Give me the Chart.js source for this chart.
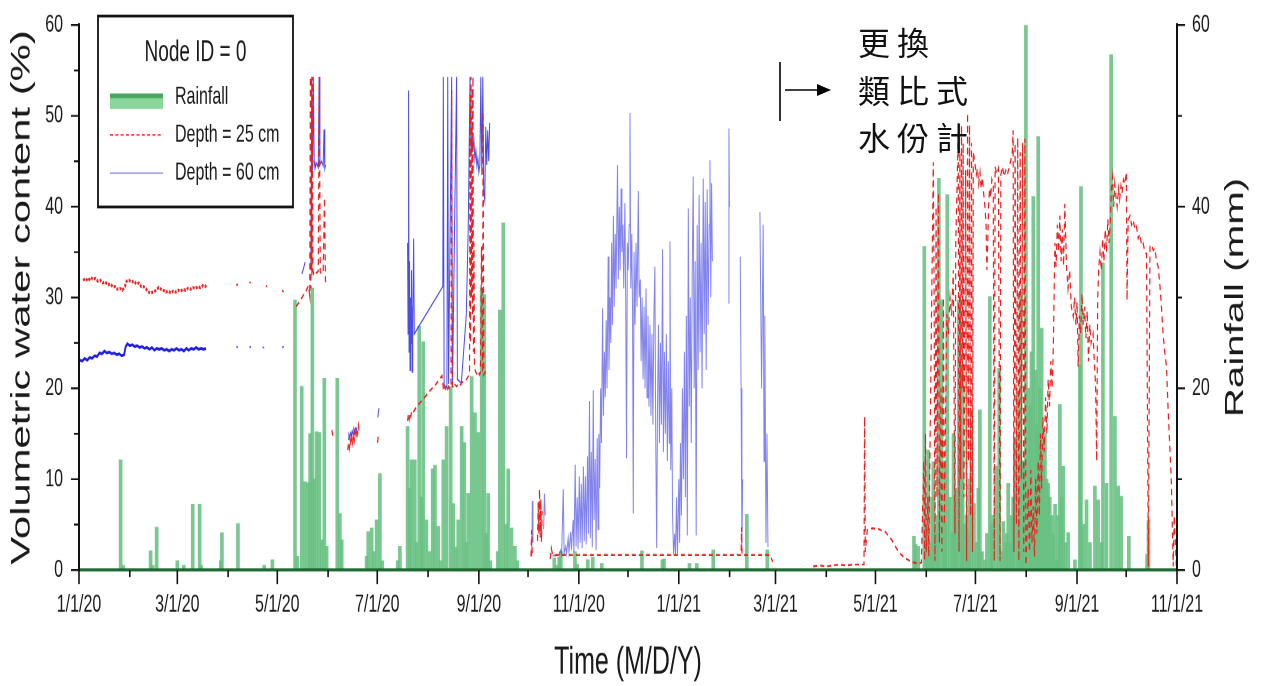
<!DOCTYPE html>
<html>
<head>
<meta charset="utf-8">
<title>Node ID = 0 — soil moisture and rainfall</title>
<script src="https://cdn.jsdelivr.net/npm/chart.js@4.4.0/dist/chart.umd.min.js"></script>
<style>
  html, body { margin: 0; padding: 0; background: #fff; overflow: hidden; }
  #stage { position: relative; width: 1263px; height: 686px; }
  /* the figure is drawn on a short canvas and stretched vertically */
  #plot { position: absolute; left: 0; top: 0; width: 1263px; height: 443px;
          transform: scaleY(1.54853); transform-origin: 0 0; }
  #arrow { position: absolute; left: 0; top: 0; }
  #note { position: absolute; left: 858px; top: 18px; font-family: "Noto Sans CJK TC", sans-serif;
          font-size: 32px; line-height: 47.5px; letter-spacing: 7px; color: #111; white-space: nowrap; }
</style>
</head>
<body>
<div id="stage">
  <div id="plot"><canvas id="c" width="1263" height="443"></canvas></div>
  <svg id="arrow" width="1263" height="686" viewBox="0 0 1263 686">
    <line x1="780" y1="62" x2="780" y2="121" stroke="#000" stroke-width="1.6"/>
    <line x1="785" y1="90" x2="820" y2="90" stroke="#000" stroke-width="1.6"/>
    <polygon points="817,84 831,90 817,96" fill="#000"/>
  </svg>
  <div id="note">更換<br>類比式<br>水份計</div>
</div>
<script>
// Day numbers count from 1 Jan 2020 (day 0).
const tickDays = [0, 60, 121, 182, 244, 305, 366, 425, 486, 547, 609, 670];
const tickLabels = ['1/1/20', '3/1/20', '5/1/20', '7/1/20', '9/1/20', '11/1/20',
                    '1/1/21', '3/1/21', '5/1/21', '7/1/21', '9/1/21', '11/1/21'];
const minorTickDays = [31, 91, 152, 213, 274, 335, 397, 456, 517, 578, 639];
const vwcTicks = [0, 10, 20, 30, 40, 50, 60];
const vwcMinorTicks = [5, 15, 25, 35, 45, 55];
const rainTicks = [0, 20, 40, 60];
const rainMinorTicks = [10, 30, 50];

// Daily rainfall (mm): [day, mm]
const rainfallDaily = [
  [25.4,12.1],[27,0.5],[43.7,2.1],[45,0.5],[47.4,4.7],[60,1.0],[64,0.5],[69.4,7.2],[73.6,7.2],[74.5,0.5],
  [86.5,1.0],[87.2,4.1],[97,5.1],[113,0.5],[118,1.1],
  [131.8,29.7],[133.2,1.5],[135.9,20.2],[137.9,9.7],[139.9,9.6],[141,15],[142.4,31],[143.5,10],[145,15.2],
  [146.6,15.1],[148.1,3.3],[149.7,21.1],[151.1,2.6],[157.6,21.1],[159.2,6.2],[160.3,3.3],
  [175.5,1.5],[176.5,4.2],[178.6,4.6],[180,2],[181.6,5.5],[183.6,10.6],[185,1],[194.5,1],[195.8,2.6],
  [200.5,15.8],[201.7,9],[202.9,12.1],[204.9,12.1],[206,3],[207.6,26.8],[209,8],[210,25.1],[212,5.5],[214,2],
  [215.8,11.1],[217.2,11.5],[219.2,4.8],[220.5,1],[222.3,12.1],[224.3,15.8],[226.8,20.2],[228.4,7.3],[230,2.5],
  [231.4,5.5],[233.5,15.8],[235.1,14],[236.3,3],[237.5,8.4],[239.6,21.3],[241.6,17.3],[243.6,15.1],[245.7,31.0],
  [247.3,30.3],[248.5,4],[249.7,8.4],[251,1],[255.5,2],[256.8,28.6],[258.9,38.2],[260.5,5],[261.9,11.1],
  [263.9,4.6],[266,2.6],[267.5,1],
  [290,1.3],[291.5,0.5],[293,1.4],[294,2],[302.6,2.0],[304,0.6],[310.5,1.1],[313.5,1.4],[319,0.7],[343.5,2.1],
  [356,1.1],[357,1.2],[372.5,0.7],[377,0.7],[387,2.2],[407.5,6.1],[420,2.2],
  [509.5,3.7],[510.5,2.8],[512.1,2.6],[515.8,35.6],[517.2,5],[518.2,13.2],[519.6,3],[520.5,8],[521.3,11.9],
  [522.9,4],[523.8,6],[524.7,43.1],[526.3,29.7],[527.8,6],[528.5,12],[529.8,41.3],[531.4,8],[532.8,4.1],
  [533.6,15],[534.5,8.2],[535.5,9],[536.9,29.7],[538.5,14],[539.2,22],[540,5],[541.6,6],[542.4,4],[543.2,10],
  [544.6,17.6],[546.1,7.3],[547.7,3],[548.8,9],[549.7,17.6],[551,2],[552.8,1.1],[554,4],[555.8,30.1],[556.8,5],
  [557.9,6],[559.9,11.4],[561.5,22.2],[563,2],[564,5.3],[565.4,3],[566.2,4],[567,9.5],[568,3],[569,6],[570,8],
  [571.1,14.6],[572.7,19.5],[573.6,9],[574.5,30.6],[575.6,12],[576.6,11.7],[577.8,60],[579.2,20],[580.2,18],
  [581.2,24],[582.3,41.1],[583.7,22],[584.5,16],[585.3,47.7],[586.4,20],[587.4,26.6],[588.4,12],[589.4,15],
  [590.4,10],[591.4,9.5],[592.4,8],[593.5,6],[594.5,4],[595.6,7.2],[596.5,1.1],[597.5,6],[598.5,18.2],[599.6,8],
  [600.6,11.4],[602,3],[603.6,4.1],[607.7,1.1],[610.7,22.6],[611.4,42.2],[612.8,5],[614.8,7.7],[616.9,3],
  [619.9,9.2],[621.9,7.7],[624,3],[624.8,33.8],[627,9.5],[629.8,56.7],[632.1,16.9],[634.1,9.2],[636,8.1],
  [640.6,3.7],[651.7,1.7],[652.6,5.5]
];

// Volumetric water content (%) at 25 cm: [day, %], null marks a logging gap
const vwcDepth25 = [
  [2.5,31.9],[4,32.1],[5.5,31.8],[7,32.2],[8.5,32.0],[10,32.1],[11.5,31.8],[13,31.9],[14.5,31.6],[16,31.7],
  [17.5,31.4],[19,31.5],[20.5,31.2],[22,31.2],[23.5,30.9],[25,31.0],[26.5,30.8],[28,31.2],[29,31.8],[30.5,31.9],
  [32,31.7],[33.5,31.8],[35,31.5],[36.5,31.6],[38,31.2],[39.5,31.2],[41,30.9],[42.5,30.6],[44,30.5],[45.5,30.6],
  [47,30.8],[48.5,31.1],[50,30.9],[51.5,30.8],[53,30.6],[54.5,30.7],[56,30.5],[57.5,30.7],[59,30.6],[60.5,30.8],
  [62,30.7],[63.5,30.9],[65,30.8],[66.5,31.0],[68,30.9],[69.5,31.1],[71,31.0],[72.5,31.2],[74,31.1],[75.5,31.3],
  [77,31.2],[78,31.4],[79,null],
  [96,31.4],[97,31.4],[98,null],[104,31.7],[104.8,31.6],[105.5,null],[114,31.2],[114.8,31.3],[115.5,null],
  [124,30.8],[124.8,30.6],[125.5,null],
  [132.5,29.0],[134,29.4],[135.5,29.8],[137,30.3],[138.5,30.7],[140,31.3],[140.8,30.2],[141.2,54.3],[141.5,31],
  [141.8,54.3],[142.1,32.5],[142.4,54.3],[142.7,33],[143.2,32.6],[144,32.9],[145,32.7],[146,32.9],[146.6,54.3],
  [147.2,32.8],[148,32.6],[149,32.9],[149.8,41],[150.4,31.8],[151,31.4],[151.5,null],
  [154.3,15.4],[154.8,14.8],[155.2,null],
  [164,13.2],[164.5,14.0],[165,13.4],[165.5,14.4],[166,13.7],[166.5,14.7],[167,14.0],[167.5,15.0],[168,14.3],
  [168.5,15.3],[169,14.6],[169.5,15.6],[170,15.0],[170.5,15.9],[171,15.2],[171.5,null],
  [182.2,14.0],[182.6,14.8],[183,null],
  [200.5,16.4],[201,17.2],[201.5,16.6],[202,17.3],[202.5,16.9],[203,17.5],[203.8,17.3],[206,18.0],[210,18.8],
  [214,19.7],[218,20.5],[221.5,21.4],[222.3,20.0],[222.8,19.7],[223.3,20.2],[224,19.8],[224.5,20.1],[225,19.9],
  [225.5,20.2],[226,20.0],[227,20.3],[227.4,52.8],[227.8,20.3],[228.5,20.0],[229.5,20.4],[230.5,20.2],
  [231.5,20.5],[232.5,20.3],[233.5,20.6],[234.5,20.8],[235.5,20.9],[236.5,21.0],[237.5,21.3],[238.3,21.6],
  [238.6,52.5],[238.9,25],[239.2,54.3],[239.5,30],[239.8,53],[240.1,28],[240.4,54.3],[240.7,24],[241,36],
  [241.3,22.5],[242,21.8],[242.8,21.6],[243.6,21.9],[244.4,21.5],[245,21.8],[245.6,35.6],[246.2,21.7],
  [246.6,50.5],[247,21.5],[247.8,21.8],[248.5,21.5],[249,21.6],[249.5,null],
  [275.8,1.5],[276.2,4.4],[276.6,1.8],[277,null],[279.8,3.2],[280.2,7.5],[280.6,4],[281,8.9],[281.4,3.6],
  [281.8,7.8],[282.2,3.1],[282.6,6.5],[283,null],
  [287.5,1.2],[288.2,2.4],[289,1.65],[320,1.65],[360,1.65],[404,1.65],[404.3,4.7],[404.6,1.65],[421.6,1.65],
  [423.4,0.9],[424,null],
  [448,0.4],[452,0.5],[456,0.4],[460,0.5],[464,0.6],[468,0.5],[472,0.6],[476,0.6],[479,0.6],[479.4,16.9],
  [479.8,2],[481,4.4],[484,4.6],[488,4.5],[492,4.2],[496,3.3],[500,2.0],[504,1.3],[508,0.9],[512,0.7],[514,0.8],
  [515.5,12],[516,1],[516.5,15],[517,2],[518,8],[518.5,1.5],[521.3,44.9],[521.8,30],[522.3,1],[523,40],
  [523.5,8],[524.5,41.5],[525,3],[526,20],[526.5,2],[527.5,30],[528,5],[529.5,28.2],[530.5,26],[531.5,30],
  [532.5,28],[533.5,33],[534.5,4],[535,36],[535.5,40],[536,44],[536.5,48],[537,2],[537.5,46],[538,10],
  [538.5,49],[539,20],[539.5,47],[540,8],[541,44],[541.6,1],[542.2,50.3],[542.8,12],[543.4,49],[544,6],
  [544.6,47],[545.2,2],[545.7,46],[546.7,44.8],[547.5,43.5],[548.3,44.2],[549,42.5],[549.8,43.8],[550.5,42],
  [551.3,43.2],[552,41.5],[552.8,40],[553.5,38],[554,33],[554.5,36],[555,40],[555.6,42],[556.3,41],[557,43],
  [557.9,42.3],[558.5,1],[559,44.4],[560,43.6],[561,44.2],[562,1],[562.5,43.5],[563.5,44.4],[564.5,43.3],
  [565.5,44],[566.5,43.5],[567.5,44.3],[568.5,45],[569.5,46],[570,48.4],[570.5,2],[571.2,47],[572,5],
  [572.8,47.6],[573.5,1],[574.3,46],[575,10],[575.8,47],[576.5,2],[577.2,47.5],[577.8,0.5],
  [578.5,4],[579.2,9],[580,2],[580.8,11],[581.5,3],[582.3,7],[583,1.5],[583.8,10],[584.5,4],[585.3,12],[586,6],
  [586.7,15],[587.4,9],[588.2,16.8],[589,13],[589.8,19],[590.6,15],[591.4,21],[592.2,18],[593,23],[593.8,20],
  [594.5,24.2],[595.5,36],[596.2,33.4],[597,38],[597.8,35],[598.5,39],[599.3,34],[600,37.5],[600.8,33.5],
  [601.5,40.3],[602.2,36],[602.6,33.4],[603.5,31],[604.5,33],[605.5,29],[606.7,27.9],[607.5,30],[608.3,27],
  [609,29.5],[609.7,22.4],[610.4,28],[611.2,26],[612,30.4],[612.8,27],[613.6,29],[614.4,25.5],[615.2,28.5],
  [616,23],[616.8,27],[617.6,25],[618.8,26],[619.5,23],[620.3,20.5],[621,12],[621.6,30],[622.3,33.4],[623,35],
  [623.8,33],[624.6,36.5],[625.4,34],[626.2,37.5],[627,35],[627.8,38.6],[628.5,36],[629.2,38],[630,42],
  [630.7,43.3],[631.4,40],[632,42.5],[632.8,41],[633.5,40],[634.3,42],[635,40.8],[635.8,42.3],[636.5,41.5],
  [637.3,43],[638.2,42.5],[639.1,43.8],[639.5,29.7],[640.2,38.6],[641.3,39],[642.3,38],[643.3,38.5],
  [644.3,37.5],[645.3,37.8],[646.3,36.5],[647.3,37],[648.3,35.8],[649.3,36],[650.4,35],[651.4,34.8],
  [652.5,0.4],[653.5,35.6],[654.5,35.8],[655.5,35.2],[656.5,35.4],[657.5,34],[658.5,33.4],[659.5,31.5],
  [660.5,29],[661.5,26],[662.5,24],[663.6,22.4],[664.5,18],[665.5,14],[666.5,10],[667.7,0.4],[668.3,6],
  [669,3],[669.6,0.4]
];

// Volumetric water content (%) at 60 cm: [day, %], null marks a logging gap
const vwcDepth60 = [
  [0.5,23.1],[2,23.0],[3.5,23.3],[5,23.1],[6.5,23.4],[8,23.3],[9.5,23.6],[11,23.5],[12.5,23.9],[14,23.8],
  [15.5,24.1],[17,23.9],[18.5,24.0],[20,23.8],[21.5,23.9],[23,23.7],[24.5,23.8],[26,23.6],[27.5,23.7],
  [28.5,24.6],[29.5,24.9],[31,24.7],[32.5,24.8],[34,24.6],[35.5,24.7],[37,24.5],[38.5,24.6],[40,24.4],
  [41.5,24.5],[43,24.3],[44.5,24.5],[46,24.2],[47.5,24.4],[49,24.3],[50.5,24.4],[52,24.2],[53.5,24.3],
  [55,24.1],[56.5,24.3],[58,24.2],[59.5,24.4],[61,24.2],[62.5,24.3],[64,24.1],[65.5,24.4],[67,24.2],
  [68.5,24.4],[70,24.3],[71.5,24.5],[73,24.3],[74.5,24.4],[76,24.3],[77.5,24.4],[79,null],
  [96,24.6],[97,24.5],[98,null],[104,24.5],[105,24.6],[106,null],[112,24.5],[113,24.5],[114,null],
  [124,24.5],[125,24.6],[126,null],
  [136,32.6],[137,33.2],[138,33.9],[139,null],
  [141.5,33],[142,54.3],[142.5,44],[143,54.3],[143.5,45],[144,44.2],[145,44.8],[146,44.3],[146.5,54.3],
  [147,44.6],[148,45],[149,44.5],[149.5,48.5],[150,44.2],[150.5,44.6],[151,null],
  [164.2,14.4],[164.7,14.9],[165.2,14.6],[165.7,15.1],[166.2,14.8],[166.7,15.3],[167.2,15.0],[167.7,15.5],
  [168.2,15.2],[168.7,15.6],[169.2,15.4],[169.7,15.7],[170,null],
  [182.3,16.8],[183,17.8],[184,null],
  [200.5,36],[200.8,26],[201.1,52.8],[201.4,24],[201.7,34],[202,22],[202.3,30],[202.6,25],[202.9,33],
  [203.2,21.8],[203.5,29],[203.8,27],[204.2,36.5],[204.6,26],[222,31.2],[222.3,54.3],[222.8,20.3],
  [224.5,20.1],[225,54.3],[225.5,20.5],[227.4,54.3],[227.9,20.2],[230.4,54.3],[230.9,21],[233.3,20.6],
  [236.3,28.0],[237.5,37.5],[238.6,54.3],[239.2,46],[239.8,48.8],[240.4,46.5],[241,47.2],[241.6,45.2],
  [242.2,46.2],[242.8,44.5],[243.4,45.3],[244,43.8],[244.6,44.6],[245.2,54.3],[245.8,43.5],[246.4,54.3],
  [247,41.5],[247.6,40.7],[248.2,48.8],[248.8,44.6],[249.4,48.4],[250,45],[250.6,49.2],[251,null],
  [276.3,1.5],[276.6,7.6],[277,3],[277.5,null],[283.5,4.5],[284,8.4],[284.5,6],[285,null],
  [289,1.6],[291,1.6],[293,1.7],[294,2.2],[294.5,1.7],[295.5,8.9],[296,1.8],[297,2.6],[297.5,1.8],[298.5,3.5],
  [299,2.0],[300,4.2],[300.5,2.2],[301.5,5.5],[302,2.0],[302.8,11.6],[303.3,2.6],[304,8.0],[304.5,2.3],
  [305.3,10.3],[305.8,3.0],[306.5,9.5],[307,2.4],[307.8,11.4],[308.3,3.2],[309,10.3],[309.5,2.8],[310.3,12.5],
  [310.8,4.0],[311.5,18.6],[312,3.5],[312.6,13.0],[313.2,2.5],[313.8,19.8],[314.3,5.5],[315,12.2],[315.5,2.2],
  [316.2,14.5],[316.7,4.5],[317.2,15],[317.7,9],[318.3,20],[318.8,14],[319.5,28.8],[320,17],[320.6,24],
  [321.1,19],[321.7,27.5],[322.2,20],[322.9,34.5],[323.4,22],[324,30],[324.5,25],[325,36],[325.5,27],
  [326.1,39],[326.6,29],[327.2,37],[327.7,31],[328.6,44.6],[329.1,32],[329.7,40],[330.2,33],[330.8,42],
  [331.3,35],[331.9,38],[332.4,31],[333.1,40.4],[333.6,30],[334.1,12.3],[334.6,36],[335.1,33],[335.7,38],
  [336.2,50.3],[336.7,31],[337.3,37],[337.8,28],[338.2,6.2],[338.7,35],[339.3,27],[339.9,36],[340.5,29],
  [341.3,41.7],[341.8,30],[342.5,32],[343,23],[343.6,30],[344.2,21],[344.8,29],[345.4,20],[346,31],[346.6,19],
  [347.2,28],[347.8,18],[348.4,27],[349,17],[349.6,26],[350.2,16],[350.8,28],[351.4,33.4],[351.9,15],
  [352.5,2.4],[353,18],[353.6,27],[354.2,14],[354.8,25],[355.4,16],[356.1,35.3],[356.6,13],[357.2,24],
  [357.8,15],[358.4,26],[359,12],[359.6,23],[360.2,14],[360.6,36.2],[361.1,11],[361.7,20],[362.2,6],
  [362.8,1.7],[363.5,4],[364,1.7],[364.6,8],[365.2,1.7],[366,10],[366.5,3],[367,14],[367.6,6],[368.2,20],
  [368.8,10],[369.4,24],[370,8],[370.6,28],[371.2,3.8],[371.8,39.8],[372.4,18],[373,30],[373.6,14],[374.2,33],
  [374.8,43.3],[375.4,20],[376,34],[376.6,3.8],[377.2,38],[377.8,22],[378.4,41.3],[379,24],[379.6,36],
  [380.2,20],[380.9,43.1],[381.5,26],[382.1,40.5],[382.7,22],[383.3,41.9],[383.9,27],[384.5,38],[385,45.1],
  [385.5,30],[386,42.6],[386.5,34],[387,null],
  [396.3,29.4],[396.6,48.6],[396.9,40],[397.2,null],
  [403.5,34.5],[404,20],[404.5,2.5],[405,10],[405.5,null],
  [415.5,39.4],[416.5,20],[417.5,38],[418,12],[418.5,28],[419.2,3],[419.8,15],[420.4,2.5],[421,null]
];

const FONT = '"Liberation Sans", Arial, sans-serif';
const INK = '#1a1a1a';
const STRETCH = 686 / 443;          // vertical stretch applied to the canvas by CSS
const AREA_TOP = 25 / STRETCH;
const AREA_BOTTOM = 570 / STRETCH;

const toPoints = rows => rows.map(([d, v]) => ({ x: d, y: v }));

// Outward tick marks: long for labelled values, short for the ones in between
const axisTicks = {
  id: 'axisTicks',
  afterDraw(chart) {
    const { ctx, chartArea: a, scales } = chart;
    ctx.save();
    ctx.strokeStyle = '#111';
    ctx.lineWidth = 1.6;
    ctx.beginPath();
    tickDays.forEach(d => { const p = scales.x.getPixelForValue(d); ctx.moveTo(p, a.bottom); ctx.lineTo(p, a.bottom + 9); });
    minorTickDays.forEach(d => { const p = scales.x.getPixelForValue(d); ctx.moveTo(p, a.bottom); ctx.lineTo(p, a.bottom + 4.5); });
    ctx.stroke();
    ctx.lineWidth = 1.2;
    ctx.beginPath();
    vwcTicks.forEach(v => { const p = scales.y.getPixelForValue(v); ctx.moveTo(a.left, p); ctx.lineTo(a.left - 8, p); });
    vwcMinorTicks.forEach(v => { const p = scales.y.getPixelForValue(v); ctx.moveTo(a.left, p); ctx.lineTo(a.left - 5, p); });
    rainTicks.forEach(v => { const p = scales.y1.getPixelForValue(v); ctx.moveTo(a.right, p); ctx.lineTo(a.right + 8, p); });
    rainMinorTicks.forEach(v => { const p = scales.y1.getPixelForValue(v); ctx.moveTo(a.right, p); ctx.lineTo(a.right + 5, p); });
    ctx.stroke();
    ctx.restore();
  }
};

// Right-hand axis title, reading upwards like the left one
const rainTitle = {
  id: 'rainTitle',
  afterDraw(chart) {
    const { ctx, chartArea: a } = chart;
    ctx.save();
    ctx.translate(1236, (a.top + a.bottom) / 2);
    ctx.rotate(-Math.PI / 2);
    ctx.textAlign = 'center';
    ctx.textBaseline = 'middle';
    ctx.fillStyle = INK;
    ctx.font = '26px ' + FONT;
    ctx.fillText('Rainfall (mm)', 0, 0);
    ctx.restore();
  }
};

// Boxed legend with the node title
const legendBox = {
  id: 'legendBox',
  afterDraw(chart) {
    const { ctx } = chart;
    const sets = chart.data.datasets;
    const rain = sets.find(s => s.type === 'bar');
    const d25 = sets[0], d60 = sets[1];
    const L = 98, R = 293, T = 16 / STRETCH, B = 207 / STRETCH;
    ctx.save();
    ctx.fillStyle = '#fff';
    ctx.fillRect(L, T, R - L, B - T);
    ctx.lineWidth = 1.8;
    ctx.strokeStyle = '#111';
    ctx.strokeRect(L, T, R - L, B - T);

    ctx.fillStyle = INK;
    ctx.textBaseline = 'middle';
    ctx.textAlign = 'center';
    ctx.font = '19px ' + FONT;
    ctx.fillText('Node ID = 0', (L + R) / 2, 53 / STRETCH);

    const sx0 = 110, sx1 = 163, tx = 175;
    ctx.font = '16px ' + FONT;
    ctx.textAlign = 'left';

    // rainfall swatch
    const r0 = 93.5 / STRETCH, r1 = 109 / STRETCH;
    ctx.fillStyle = 'rgb(140,214,156)';
    ctx.fillRect(sx0, r0, sx1 - sx0, r1 - r0);
    ctx.fillStyle = 'rgb(72,168,98)';
    ctx.fillRect(sx0, r0, sx1 - sx0, 3);
    ctx.fillStyle = INK;
    ctx.fillText(rain.label, tx, 97 / STRETCH);

    // 25 cm sample
    let yy = 135 / STRETCH;
    ctx.strokeStyle = 'rgb(236,32,32)';
    ctx.lineWidth = 1;
    ctx.setLineDash([3, 2.3]);
    ctx.beginPath(); ctx.moveTo(sx0, yy); ctx.lineTo(sx1, yy); ctx.stroke();
    ctx.setLineDash([]);
    ctx.fillText(d25.label, tx, yy);

    // 60 cm sample
    yy = 173 / STRETCH;
    ctx.strokeStyle = 'rgba(70,70,225,0.8)';
    ctx.lineWidth = 0.8;
    ctx.beginPath(); ctx.moveTo(sx0, yy); ctx.lineTo(sx1, yy); ctx.stroke();
    ctx.fillText(d60.label, tx, yy);
    ctx.restore();
  }
};

const tickFont = { family: FONT, size: 16 };

// keep the plot edges where the layout puts them: no extra room for the end labels
const noEndPadding = s => { s.paddingTop = 0; s.paddingBottom = 0; };

// 60 cm trace colour: deep blue in 2020, paler once the readings turn erratic
const depth60Colour = x => x < 80 ? 'rgb(30,30,222)' : x < 255 ? 'rgba(45,45,226,0.85)' : 'rgba(55,55,228,0.62)';

new Chart(document.getElementById('c'), {
  type: 'line',
  data: {
    datasets: [
      {
        type: 'line',
        label: 'Depth = 25 cm',
        data: toPoints(vwcDepth25),
        yAxisID: 'y',
        borderColor: 'rgb(236,32,32)',
        borderWidth: 1.2,
        borderDash: [4, 3],
        pointRadius: 0,
        tension: 0,
        spanGaps: false,
        segment: {
          // the early record is logged densely and reads as a thick dotted band
          borderWidth: c => c.p0.parsed.x < 80 ? 2 : 1.2,
          borderDash: c => c.p0.parsed.x < 80 ? [2, 1.2] : [4, 3]
        },
        order: 1
      },
      {
        type: 'line',
        label: 'Depth = 60 cm',
        data: toPoints(vwcDepth60),
        yAxisID: 'y',
        borderColor: 'rgb(30,30,222)',
        borderWidth: 1,
        pointRadius: 0,
        tension: 0,
        spanGaps: false,
        segment: {
          borderColor: c => depth60Colour(c.p0.parsed.x),
          borderWidth: c => c.p0.parsed.x < 80 ? 1.8 : 1
        },
        order: 2
      },
      {
        type: 'bar',
        label: 'Rainfall',
        data: toPoints(rainfallDaily),
        yAxisID: 'y1',
        backgroundColor: 'rgba(104,192,130,0.88)',
        borderWidth: 0,
        barThickness: 3,
        order: 3
      }
    ]
  },
  options: {
    responsive: false,
    animation: false,
    devicePixelRatio: 2,
    events: [],
    layout: { padding: { top: AREA_TOP, left: 0, right: 0, bottom: 0 } },
    plugins: { legend: { display: false }, tooltip: { enabled: false } },
    scales: {
      x: {
        type: 'linear',
        position: 'bottom',
        min: 0,
        max: 670,
        offset: false,
        afterBuildTicks: s => { s.ticks = tickDays.map(v => ({ value: v })); },
        afterFit: s => { s.height = 443 - AREA_BOTTOM; },
        grid: { display: false, drawTicks: false },
        border: { display: true, color: '#1e6a33', width: 2, z: 1 },
        ticks: {
          autoSkip: false, maxRotation: 0, minRotation: 0, padding: 13,
          color: INK, font: tickFont,
          callback: (v, i) => tickLabels[i]
        },
        title: {
          display: true, text: 'Time (M/D/Y)', color: INK,
          font: { family: FONT, size: 25 }, padding: { top: 0, bottom: 0 }
        }
      },
      y: {
        type: 'linear',
        position: 'left',
        min: 0,
        max: 60,
        afterBuildTicks: s => { s.ticks = vwcTicks.map(v => ({ value: v })); },
        afterFit: s => { s.width = 79; noEndPadding(s); },
        grid: { display: false, drawTicks: false },
        border: { display: true, color: '#111', width: 2, z: 1 },
        ticks: { padding: 16, color: INK, font: tickFont },
        title: {
          display: true, text: 'Volumetric water content (%)', color: INK,
          font: { family: FONT, size: 27 }, padding: { top: 6, bottom: 0 }
        }
      },
      y1: {
        type: 'linear',
        position: 'right',
        min: 0,
        max: 60,
        afterBuildTicks: s => { s.ticks = rainTicks.map(v => ({ value: v })); },
        afterFit: s => { s.width = 86; noEndPadding(s); },
        grid: { display: false, drawTicks: false },
        border: { display: true, color: '#111', width: 2, z: 1 },
        ticks: { padding: 15, color: INK, font: tickFont },
        title: { display: false }
      }
    }
  },
  plugins: [axisTicks, legendBox, rainTitle]
});
</script>
</body>
</html>
